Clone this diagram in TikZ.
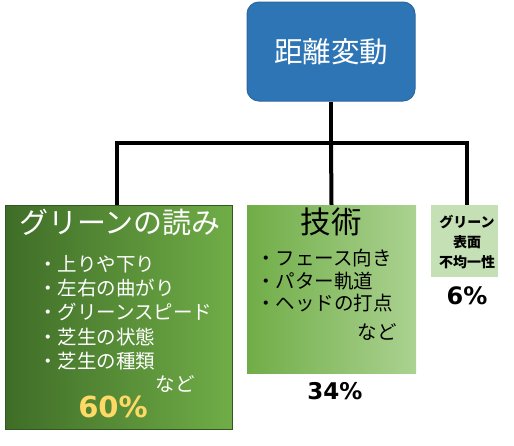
\documentclass[tikz,border=0pt]{standalone}
\usepackage{fontspec}
\setmainfont{Noto Sans CJK JP}
\newfontfamily\pctfont{DejaVu Sans}
\usetikzlibrary{positioning}

\definecolor{distblue}{HTML}{2E75B6}
\definecolor{distedge}{HTML}{2B67A0}
\definecolor{darkgreen}{HTML}{3F6D27}
\definecolor{midgreen}{HTML}{70AD47}
\definecolor{palegreen}{HTML}{ABD291}
\definecolor{lightgreen}{HTML}{C5E0B4}
\definecolor{pctyellow}{HTML}{FFD966}

\tikzset{
  branch/.style={line width=4pt, black},
  item/.style={align=left, inner sep=0pt, font=\fontsize{19.5}{24.3}\selectfont}
}

\begin{document}
\begin{tikzpicture}[x=1pt, y=-1pt]
    \useasboundingbox (0,0) rectangle (514,445);

    % Define boxes
    \node[draw=distedge, line width=1pt, fill=distblue, rounded corners=12pt,
          minimum width=168pt, minimum height=99pt] (dist) at (331,51.5) {};
    \node[draw=darkgreen!80!black, left color=darkgreen, right color=midgreen,
          minimum width=227pt, minimum height=224pt] (read) at (119,317) {};
    \node[left color=midgreen, right color=palegreen,
          minimum width=169pt, minimum height=168pt] (tech) at (331.5,289) {};
    \node[fill=lightgreen, minimum width=67pt, minimum height=72pt] (green) at (464,241) {};

    % Connectors
    \coordinate (fork) at (331,143);
    \draw[branch] (dist.south) -- (fork);
    \draw[branch] (fork) -| (117,205) coordinate (readtop);
    \draw[branch] (fork) -| (467,205) coordinate (greentop);
    \draw[branch] (fork) -- (tech.north);
    \draw[branch, line cap=rect] (117,143) -- (467,143);

    % Top label
    \node[text=white, font=\fontsize{28.5}{32}\selectfont] (distlabel) at (dist.center) {距離変動};

    % Left box texts
    \node[text=white, font=\fontsize{29}{32}\selectfont] (readtitle) at (120,222) {グリーンの読み};
    \node[item, text=white, anchor=north west] (readlist) at (38,255)
        {・上りや下り\\・左右の曲がり\\・グリーンスピード\\・芝生の状態\\・芝生の種類};
    \node[item, text=white] (readetc) at (175,384) {など};
    \node[text=pctyellow, font=\pctfont\bfseries\fontsize{29}{32}\selectfont] (readpct) at (113,407) {60\%};

    % Middle box texts
    \node[font=\fontsize{30.5}{34}\selectfont] (techtitle) at (331,222) {技術};
    \node[item, anchor=north west, font=\fontsize{19.5}{22.5}\selectfont] (techlist) at (256,249)
        {・フェース向き\\・パター軌道\\・ヘッドの打点};
    \node[item, anchor=east, font=\fontsize{19.5}{22.5}\selectfont] (techetc) at (397,332) {など};
    \node[font=\pctfont\bfseries\fontsize{23}{26}\selectfont] (techpct) at (335,391) {34\%};

    % Right box texts
    \node[align=center, inner sep=0pt, font=\bfseries\fontsize{14}{20}\selectfont] (greentext) at (467,242) {グリーン\\表面\\不均一性};
    \node[font=\pctfont\bfseries\fontsize{24}{26}\selectfont] (greenpct) at (467,296) {6\%};
\end{tikzpicture}
\end{document}
